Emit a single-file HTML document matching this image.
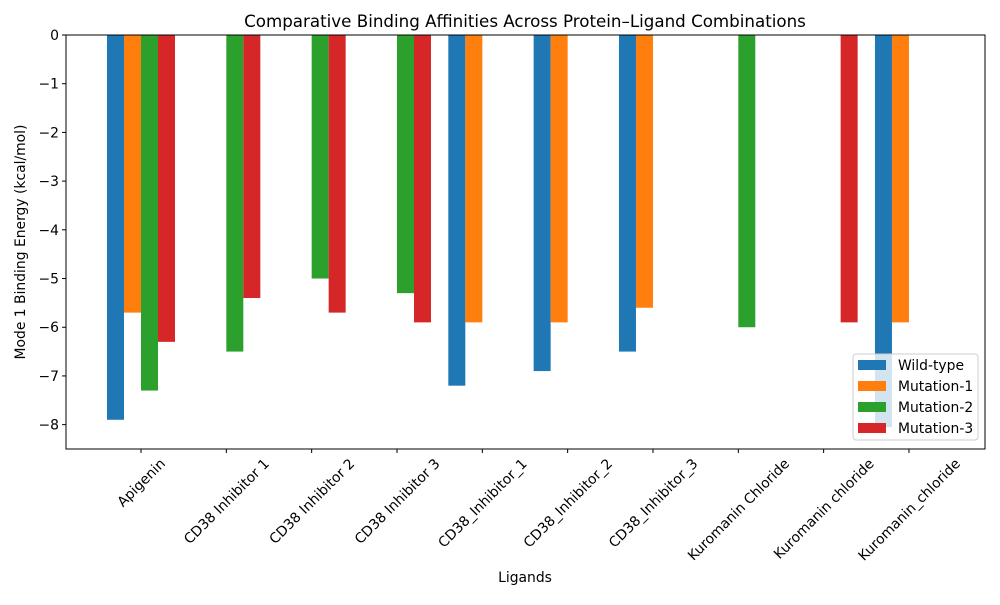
<!DOCTYPE html>
<html><head><meta charset="utf-8"><style>
body{margin:0;background:#fff;font-family:"Liberation Sans","DejaVu Sans",sans-serif}
</style></head><body>
<svg id="c" width="1000" height="600" xmlns="http://www.w3.org/2000/svg" font-family="DejaVu Sans, Liberation Sans, sans-serif"></svg>
<script>
const categories=["Apigenin","CD38 Inhibitor 1","CD38 Inhibitor 2","CD38 Inhibitor 3","CD38_Inhibitor_1","CD38_Inhibitor_2","CD38_Inhibitor_3","Kuromanin Chloride","Kuromanin chloride","Kuromanin_chloride"];
const seriesNames=["Wild-type","Mutation-1","Mutation-2","Mutation-3"];
const wildType=[-7.9,null,null,null,-7.2,-6.9,-6.5,null,null,-8.05];
const mutation1=[-5.7,null,null,null,-5.9,-5.9,-5.6,null,null,-5.9];
const mutation2=[-7.3,-6.5,-5.0,-5.3,null,null,null,-6.0,null,null];
const mutation3=[-6.3,-5.4,-5.7,-5.9,null,null,null,null,-5.9,null];
const yTicks=[0,-1,-2,-3,-4,-5,-6,-7,-8];
const colors=["#1f77b4","#ff7f0e","#2ca02c","#d62728"];
const series=[wildType,mutation1,mutation2,mutation3];
const L=66,R=985,T=35,B=449;
const y=v=>T+(0-v)*(B-T)/8.5;
const x=i=>141+i*85.33;
const bw=17;
const FS=13.9;
const svg=document.getElementById('c');
const NS="http://www.w3.org/2000/svg";
function mk(t,a,p){const e=document.createElementNS(NS,t);for(const k in a)e.setAttribute(k,a[k]);(p||svg).appendChild(e);return e;}
series.forEach((s,si)=>{s.forEach((v,i)=>{if(v==null)return;
const r=mk('rect',{x:x(i)+(si-2)*bw,y:y(0),width:bw,height:y(v)-y(0),fill:colors[si]});

});});
const frame=mk('rect',{x:L,y:T,width:R-L,height:B-T,fill:'none',stroke:'#000','stroke-width':1});

yTicks.forEach(t=>{mk('line',{x1:L-4,x2:L,y1:y(t),y2:y(t),stroke:'#000'});
const tx=mk('text',{x:L-7,y:y(t)+5,'text-anchor':'end','font-size':FS});tx.textContent=t===0?'0':'\u2212'+(-t);
});
categories.forEach((c,i)=>{mk('line',{x1:x(i),x2:x(i),y1:B,y2:B+4,stroke:'#000'});
const tx=mk('text',{x:0,y:0,'text-anchor':'middle','font-size':FS});tx.textContent=c;
const w=tx.getComputedTextLength();const h=FS;
const cy=B+7+(w+h)*0.7071/2;
tx.setAttribute('x',x(i));tx.setAttribute('y',cy+5);
tx.setAttribute('transform',`rotate(-45 ${x(i)} ${cy})`);
});
let t=mk('text',{x:525,y:27,'text-anchor':'middle','font-size':16.7});t.textContent='Comparative Binding Affinities Across Protein\u2013Ligand Combinations';

t=mk('text',{x:525,y:582,'text-anchor':'middle','font-size':FS});t.textContent='Ligands';

t=mk('text',{x:25,y:242,'text-anchor':'middle','font-size':FS,transform:'rotate(-90 25 242)'});t.textContent='Mode 1 Binding Energy (kcal/mol)';

const lg=mk('g',{});
mk('rect',{x:853,y:354,width:125,height:86,rx:3,fill:'#fff','fill-opacity':0.8,stroke:'#ccc'},lg);
seriesNames.forEach((n,i)=>{const yy=360+i*21;
const e=mk('rect',{x:858,y:yy,width:28,height:10,fill:colors[i]},lg);

const tx=mk('text',{x:898,y:yy+10,'font-size':FS},lg);tx.textContent=n;
});
</script>
</body></html>
